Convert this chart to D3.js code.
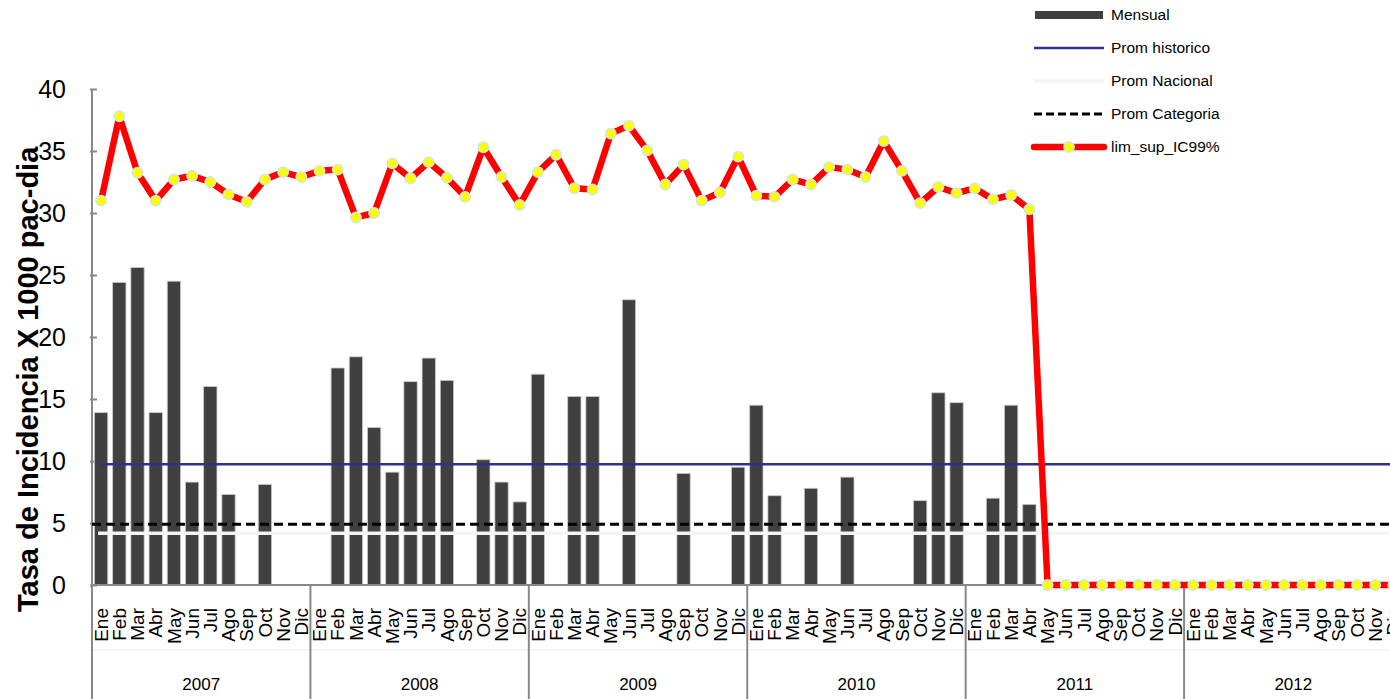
<!DOCTYPE html>
<html>
<head>
<meta charset="utf-8">
<script src="https://cdn.jsdelivr.net/npm/d3@7"></script>
<style>
  body { margin: 0; background: #fff; }
  svg { display: block; font-family: "Liberation Sans", Arial, sans-serif; }
</style>
</head>
<body>
<svg id="chart" width="1390" height="699"></svg>
<script>
const months = ['Ene', 'Feb', 'Mar', 'Abr', 'May', 'Jun', 'Jul', 'Ago', 'Sep', 'Oct', 'Nov', 'Dic'];
const years = ['2007', '2008', '2009', '2010', '2011', '2012'];

// tasa mensual (0 = sin casos)
const mensual = [
  13.9, 24.4, 25.6, 13.9, 24.5, 8.3, 16.0, 7.3, 0, 8.1, 0, 0,
  0, 17.5, 18.4, 12.7, 9.1, 16.4, 18.3, 16.5, 0, 10.1, 8.3, 6.7,
  17.0, 0, 15.2, 15.2, 0, 23.0, 0, 0, 9.0, 0, 0, 9.5,
  14.5, 7.2, 0, 7.8, 0, 8.7, 0, 0, 0, 6.8, 15.5, 14.7,
  0, 7.0, 14.5, 6.5, 0, 0, 0, 0, 0, 0, 0, 0,
  0, 0, 0, 0, 0, 0, 0, 0, 0, 0, 0, 0
];

const limSup = [
  31.0, 37.8, 33.25, 31.0, 32.7, 33.0, 32.5, 31.5, 30.9, 32.7, 33.3, 32.9,
  33.4, 33.5, 29.65, 30.0, 34.0, 32.8, 34.1, 32.85, 31.3, 35.3, 32.9, 30.65,
  33.3, 34.7, 32.0, 31.9, 36.4, 37.05, 35.05, 32.3, 33.9, 31.0, 31.65, 34.55,
  31.4, 31.3, 32.7, 32.3, 33.7, 33.5, 32.9, 35.8, 33.4, 30.8, 32.1, 31.6,
  32.0, 31.1, 31.45, 30.3, 0, 0, 0, 0, 0, 0, 0, 0,
  0, 0, 0, 0, 0, 0, 0, 0, 0, 0, 0, 0
];

const promHistorico = 9.73;
const promNacional = 4.17;
const promCategoria = 4.9;
const yTicks = [0, 5, 10, 15, 20, 25, 30, 35, 40];
const legendLabels = ['Mensual', 'Prom historico', 'Prom Nacional', 'Prom Categoria', 'lim_sup_IC99%'];

const categories = years.flatMap(y => months.map(m => y + '-' + m));
const data = categories.map((c, i) => ({ key: c, month: months[i % 12], mensual: mensual[i], lim: limSup[i] }));

const svg = d3.select('#chart');
const plotLeft = 92, plotRight = 1402.5, plotTop = 89, plotBottom = 585;

const x = d3.scaleBand().domain(categories).range([plotLeft, plotRight]).paddingInner(0.27).paddingOuter(0.135);
const xYear = d3.scaleBand().domain(years).range([plotLeft, plotRight]);
const y = d3.scaleLinear().domain([0, 40]).range([plotBottom, plotTop]);
const cx = d => x(d.key) + x.bandwidth() / 2;

// y axis
const yAxis = svg.append('g')
  .attr('transform', 'translate(' + plotLeft + ',0)')
  .call(d3.axisRight(y).tickValues(yTicks).tickSize(5).tickFormat(''));
yAxis.select('.domain').attr('stroke', '#888').attr('stroke-width', 2).attr('d', 'M0,' + plotTop + 'V' + plotBottom);
yAxis.selectAll('.tick line').attr('stroke', '#888').attr('stroke-width', 2).attr('x1', -2);

svg.append('g').selectAll('text')
  .data(yTicks)
  .enter().append('text')
  .attr('x', 66)
  .attr('y', d => y(d))
  .attr('dy', '0.35em')
  .attr('text-anchor', 'end')
  .style('font-size', '25px')
  .text(d => d);

svg.append('text')
  .attr('transform', 'translate(38,' + 612 + ') rotate(-90)')
  .attr('text-anchor', 'start')
  .style('font-size', '29px')
  .style('font-weight', 'bold')
  .text('Tasa de Incidencia X 1000 pac-dia');

// bars
svg.append('g').selectAll('rect')
  .data(data.filter(d => d.mensual > 0))
  .enter().append('rect')
  .attr('x', d => x(d.key))
  .attr('y', d => y(d.mensual))
  .attr('width', x.bandwidth())
  .attr('height', d => y(0) - y(d.mensual))
  .style('fill', '#404040')
  .style('stroke', '#c8c8c8')
  .style('stroke-width', 0.8);

// x axis
svg.append('line')
  .attr('x1', plotLeft).attr('x2', plotRight)
  .attr('y1', plotBottom).attr('y2', plotBottom)
  .style('stroke', '#888').style('stroke-width', 2);

svg.append('line')
  .attr('x1', plotLeft).attr('x2', plotRight)
  .attr('y1', 650).attr('y2', 650)
  .style('stroke', '#ececec').style('stroke-width', 1);

svg.append('g').selectAll('line')
  .data(years)
  .enter().append('line')
  .attr('x1', d => xYear(d)).attr('x2', d => xYear(d))
  .attr('y1', plotBottom).attr('y2', 699)
  .style('stroke', '#888').style('stroke-width', 2);

svg.append('g').selectAll('text')
  .data(data)
  .enter().append('text')
  .attr('transform', d => 'translate(' + cx(d) + ',608) rotate(-90)')
  .attr('text-anchor', 'end')
  .attr('dy', '0.35em')
  .style('font-size', '19px')
  .text(d => d.month);

svg.append('g').selectAll('text')
  .data(years)
  .enter().append('text')
  .attr('x', d => xYear(d) + xYear.bandwidth() / 2)
  .attr('y', 690)
  .attr('text-anchor', 'middle')
  .style('font-size', '17px')
  .text(d => d);

// reference lines
const x0 = cx(data[0]);
svg.append('line')
  .attr('x1', x0).attr('x2', plotRight)
  .attr('y1', y(promHistorico)).attr('y2', y(promHistorico))
  .style('stroke', '#2e3192').style('stroke-width', 2.5);

svg.append('line')
  .attr('x1', x0 - 3).attr('x2', plotRight)
  .attr('y1', y(promNacional)).attr('y2', y(promNacional))
  .style('stroke', '#f4f4f4').style('stroke-width', 3.5);

svg.append('line')
  .attr('x1', plotLeft).attr('x2', plotRight)
  .attr('y1', y(promCategoria)).attr('y2', y(promCategoria))
  .style('stroke', '#000').style('stroke-width', 3).style('stroke-dasharray', '9,5');

// lim_sup_IC99%
const line = d3.line().x(d => cx(d)).y(d => y(d.lim));
svg.append('path')
  .datum(data)
  .attr('d', line)
  .style('fill', 'none')
  .style('stroke', '#ff0000')
  .style('stroke-width', 6.5)
  .style('stroke-linejoin', 'round');

svg.append('g').selectAll('circle')
  .data(data)
  .enter().append('circle')
  .attr('cx', d => cx(d))
  .attr('cy', d => y(d.lim))
  .attr('r', 5.2)
  .style('fill', '#ffff00')
  .style('stroke', '#cfe6e8')
  .style('stroke-width', 1.5);

// legend
const legend = svg.append('g');
const rowY = [15, 48, 81, 114, 147];
legend.selectAll('text')
  .data(legendLabels)
  .enter().append('text')
  .attr('x', 1111)
  .attr('y', (d, i) => rowY[i])
  .attr('dy', '0.35em')
  .style('font-size', '15.5px')
  .text(d => d);

legend.append('rect')
  .attr('x', 1035).attr('y', rowY[0] - 4).attr('width', 68).attr('height', 8)
  .style('fill', '#404040');
legend.append('line')
  .attr('x1', 1034).attr('x2', 1104).attr('y1', rowY[1]).attr('y2', rowY[1])
  .style('stroke', '#2e3192').style('stroke-width', 2.5);
legend.append('line')
  .attr('x1', 1034).attr('x2', 1104).attr('y1', rowY[2]).attr('y2', rowY[2])
  .style('stroke', '#f4f4f4').style('stroke-width', 3);
legend.append('line')
  .attr('x1', 1034).attr('x2', 1104).attr('y1', rowY[3]).attr('y2', rowY[3])
  .style('stroke', '#000').style('stroke-width', 3).style('stroke-dasharray', '8,4');
legend.append('line')
  .attr('x1', 1034).attr('x2', 1104).attr('y1', rowY[4]).attr('y2', rowY[4])
  .style('stroke', '#ff0000').style('stroke-width', 6.5).style('stroke-linecap', 'round');
legend.append('circle')
  .attr('cx', 1069).attr('cy', rowY[4]).attr('r', 5.2)
  .style('fill', '#ffff00').style('stroke', '#cfe6e8').style('stroke-width', 1.5);
</script>
</body>
</html>
